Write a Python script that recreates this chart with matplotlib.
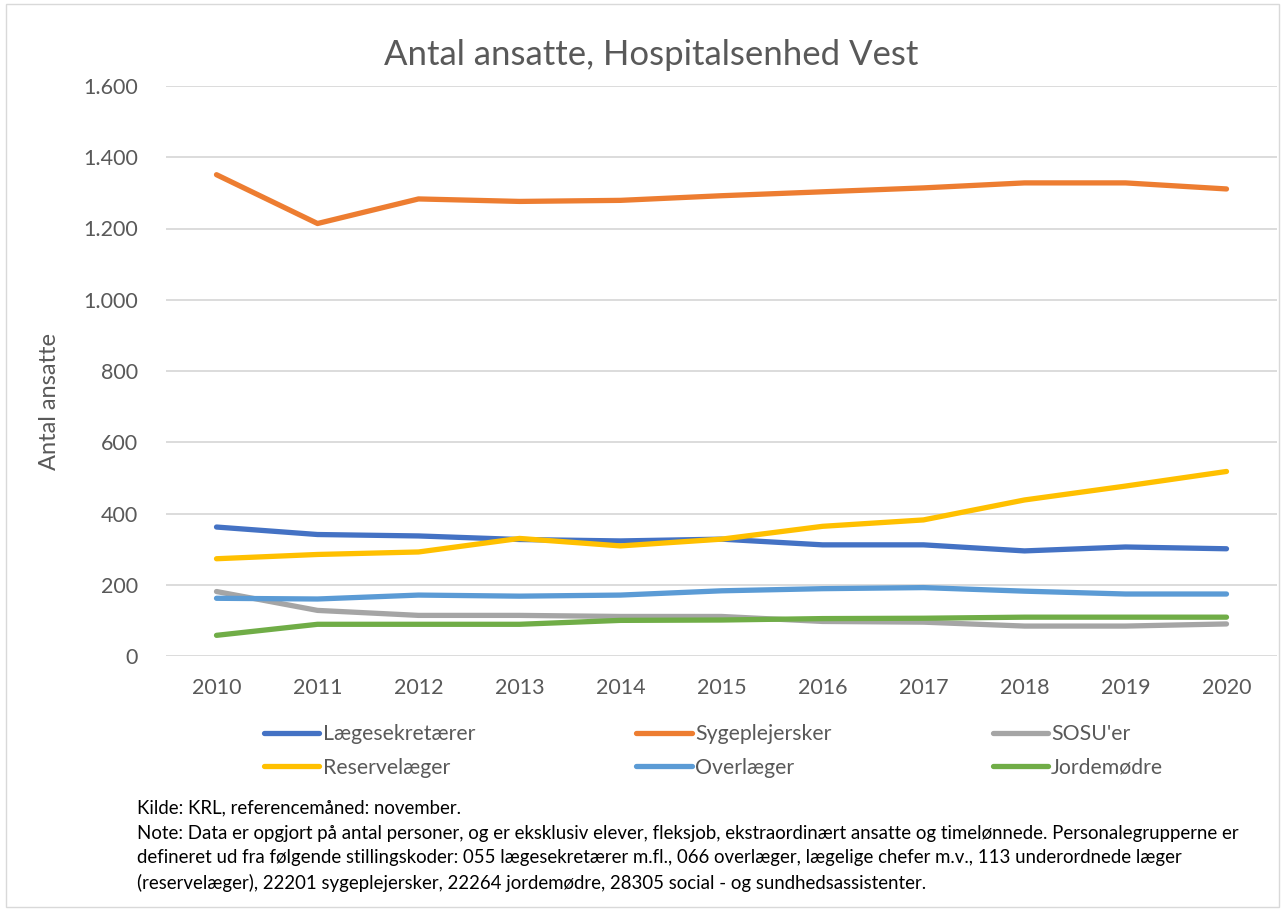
import matplotlib.pyplot as plt
from matplotlib.ticker import FuncFormatter, MultipleLocator
from matplotlib.patches import Rectangle

years = [2010, 2011, 2012, 2013, 2014, 2015, 2016, 2017, 2018, 2019, 2020]
laegesekretaerer = [362, 341, 337, 327, 323, 328, 312, 312, 295, 306, 301]
sygeplejersker = [1351, 1214, 1283, 1276, 1279, 1292, 1303, 1314, 1328, 1328, 1311]
sosu = [181, 128, 114, 114, 111, 111, 97, 95, 84, 84, 90]
reservelaeger = [273, 285, 292, 330, 309, 328, 364, 382, 438, 477, 518]
overlaeger = [162, 160, 171, 168, 171, 183, 189, 192, 182, 174, 174]
jordemoedre = [58, 89, 89, 89, 100, 101, 105, 106, 109, 109, 109]

series = [
    ("Lægesekretærer", laegesekretaerer, "#4472C4"),
    ("Sygeplejersker", sygeplejersker, "#ED7D31"),
    ("SOSU'er", sosu, "#A5A5A5"),
    ("Reservelæger", reservelaeger, "#FFC000"),
    ("Overlæger", overlaeger, "#5B9BD5"),
    ("Jordemødre", jordemoedre, "#70AD47"),
]

note_lines = [
    "Kilde: KRL, referencemåned: november.",
    "Note: Data er opgjort på antal personer, og er eksklusiv elever, fleksjob, ekstraordinært ansatte og timelønnede. Personalegrupperne er",
    "defineret ud fra følgende stillingskoder: 055 lægesekretærer m.fl., 066 overlæger, lægelige chefer m.v., 113 underordnede læger",
    "(reservelæger), 22201 sygeplejersker, 22264 jordemødre, 28305 social - og sundhedsassistenter.",
]

plt.rcParams['font.family'] = ['Lato', 'DejaVu Sans']
text_col = "#595959"

fig = plt.figure(figsize=(12.85, 9.11), dpi=100)
ax = fig.add_axes([166 / 1285, 1 - 656 / 911, (1277 - 166) / 1285, (656 - 86) / 911])

lines = {}
for name, vals, col in series:
    ln, = ax.plot(years, vals, color=col, lw=3.8, solid_capstyle='round',
                  solid_joinstyle='round', label=name)
    lines[name] = ln

ax.set_xlim(2009.5, 2020.5)
ax.set_ylim(0, 1600)
ax.yaxis.set_major_locator(MultipleLocator(200))
ax.yaxis.set_major_formatter(FuncFormatter(lambda v, p: f"{int(v):,}".replace(",", ".")))
ax.set_xticks(years)
ax.grid(axis='y', color="#D9D9D9", lw=1.3)
ax.set_axisbelow(True)
for s in ax.spines.values():
    s.set_visible(False)
ax.tick_params(length=0, labelsize=15.5, colors=text_col)
ax.tick_params(axis='x', pad=16)
ax.tick_params(axis='y', pad=20)

fig.text(50 / 1285, 1 - 401 / 911, "Antal ansatte", rotation=90,
         ha='center', va='center', fontsize=17, color=text_col)
fig.text(651 / 1285, 1 - 55 / 911, "Antal ansatte, Hospitalsenhed Vest",
         ha='center', va='center', fontsize=25, color=text_col)

order = ["Lægesekretærer", "Reservelæger", "Sygeplejersker", "Overlæger", "SOSU'er", "Jordemødre"]
fig.legend([lines[n] for n in order], order, ncol=3, loc='center left',
           bbox_to_anchor=(245 / 1285, 1 - 751 / 911), frameon=False,
           fontsize=15.3, handlelength=2.6, handletextpad=0.15, columnspacing=7.6,
           labelspacing=0.62, labelcolor=text_col)

for i, t in enumerate(note_lines):
    fig.text(137 / 1285, 1 - (808 + 25 * i) / 911, t, ha='left', va='center',
             fontsize=13.4, color='black')

fig.patches.append(Rectangle((6 / 1285, 4 / 911), 1 - 12 / 1285, 1 - 8 / 911,
                             transform=fig.transFigure, fill=False,
                             edgecolor="#D9D9D9", lw=1))

fig.savefig("out.png", dpi=100)
